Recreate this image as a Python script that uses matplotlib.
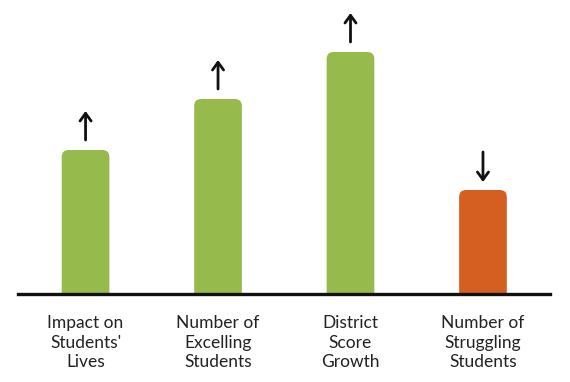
import matplotlib
matplotlib.use("Agg")
import matplotlib.pyplot as plt
from matplotlib.patches import FancyBboxPatch

categories = ["Impact on\nStudents'\nLives", "Number of\nExcelling\nStudents",
              "District\nScore\nGrowth", "Number of\nStruggling\nStudents"]
values = [144, 195, 242, 104]
directions = ["up", "up", "up", "down"]
colors = ["#96BA4B", "#96BA4B", "#96BA4B", "#D45F20"]

fig = plt.figure(figsize=(5.7, 3.82), dpi=100)
ax = fig.add_axes([18/570, 88/382, 532/570, 294/382])
ax.set_xlim(-0.51, 3.506)
ax.set_ylim(0, 294)
for s in ["top", "right", "left"]:
    ax.spines[s].set_visible(False)
ax.spines["bottom"].set_linewidth(2.4)
ax.spines["bottom"].set_color("#111111")
ax.set_xticks([])
ax.set_yticks([])

w = 0.36
px_per_x = 532 / (3.506 + 0.51)
r = 7 / px_per_x
astyle = "->,head_length=0.55,head_width=0.4"
for i, (v, c, d) in enumerate(zip(values, colors, directions)):
    p = FancyBboxPatch((i - w/2, -20), w, v + 20,
                       boxstyle=f"round,pad=0,rounding_size={r}",
                       mutation_aspect=px_per_x, fc=c, ec="none", clip_on=True)
    ax.add_patch(p)
    if d == "up":
        ax.annotate("", xy=(i, v + 39), xytext=(i, v + 10),
                    arrowprops=dict(arrowstyle=astyle,
                                    lw=2.0, color="#111111", shrinkA=0, shrinkB=0),
                    annotation_clip=False)
    else:
        ax.annotate("", xy=(i, v + 8), xytext=(i, v + 38),
                    arrowprops=dict(arrowstyle=astyle,
                                    lw=2.0, color="#111111", shrinkA=0, shrinkB=0),
                    annotation_clip=False)
    ax.text(i, -21, categories[i], ha="center", va="top", multialignment="center",
            fontsize=12.5, family=["Lato", "DejaVu Sans"], color="#222222",
            linespacing=1.27, clip_on=False)

fig.savefig("out.png", dpi=100)
